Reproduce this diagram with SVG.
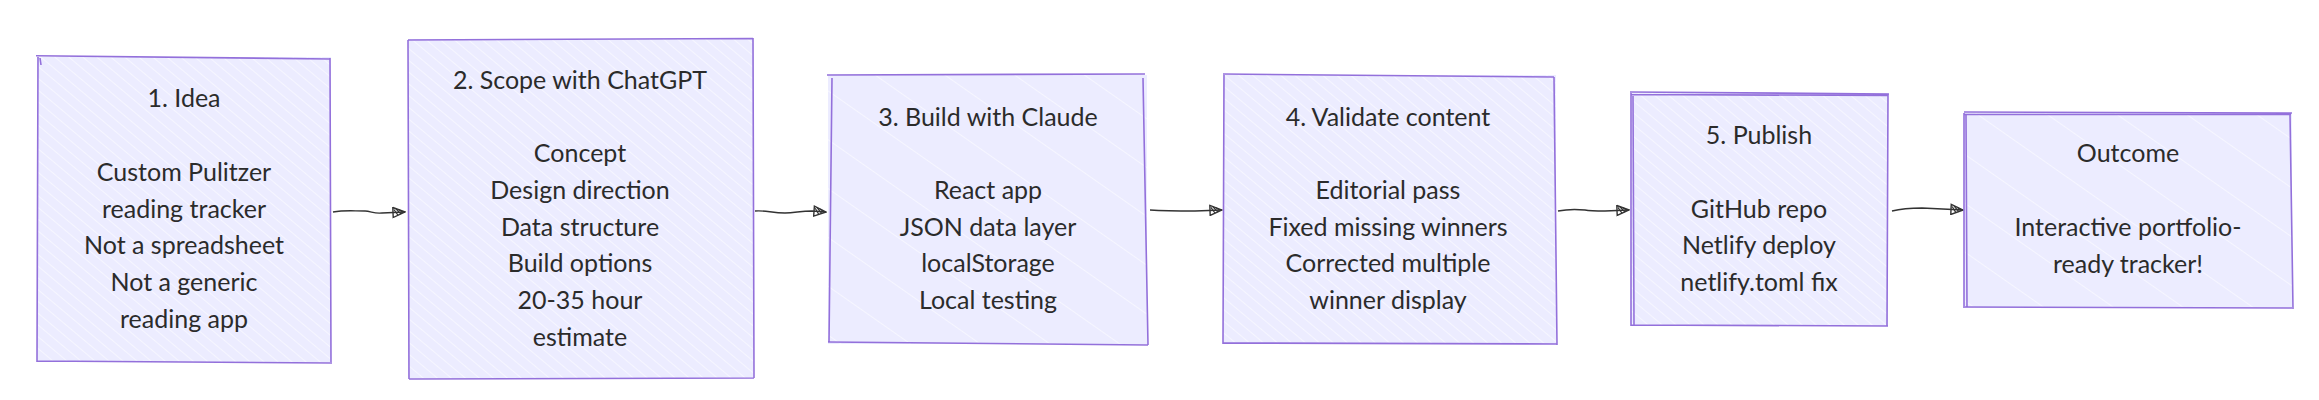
<svg xmlns="http://www.w3.org/2000/svg" width="2319" height="400" viewBox="0 0 2319 400">
<defs>
<pattern id="hatch" patternUnits="userSpaceOnUse" width="9" height="9" patternTransform="rotate(-50)">
<rect width="9" height="9" fill="#ECECFF"/>
<line x1="0" y1="0" x2="0" y2="9" stroke="#ffffff" stroke-width="1.3" stroke-opacity="0.85"/>
</pattern>
<pattern id="hatch2" patternUnits="userSpaceOnUse" width="40" height="40" patternTransform="rotate(-55)">
<rect width="40" height="40" fill="#ECECFF"/>
<line x1="0" y1="0" x2="0" y2="40" stroke="#ffffff" stroke-width="1.2" stroke-opacity="0.9"/>
</pattern>
<marker id="arr" viewBox="0 0 14 12" refX="13" refY="6" markerWidth="14" markerHeight="12" markerUnits="userSpaceOnUse" orient="auto">
<path d="M1,1 L13,6 L1,11 Z" fill="none" stroke="#333" stroke-width="1.4"/>
<path d="M2,3 L6,9 M4,2.5 L9,8 M7,3.5 L11,6" stroke="#333" stroke-width="1.2" fill="none"/>
</marker>
<style>
.box{stroke:#9370DB;stroke-width:1.6;fill:none;}
.bg{stroke:none;}
.lbl{font-family:"Lato","Open Sans",sans-serif;font-size:25px;fill:#2b2b2b;text-anchor:middle;}
.edge{fill:none;stroke:#333333;stroke-width:1.4;}
</style>
</defs>

<g id="connectors">
<path class="edge" d="M333,212 C345,210 352,211 365,211 C371,211 374,214 382,213 L405,212" marker-end="url(#arr)"/>
<path class="edge" d="M755,211 C765,210 772,213 785,213 C795,213 800,211 812,211 L826,212" marker-end="url(#arr)"/>
<path class="edge" d="M1150,210 C1165,211 1180,211 1195,211 L1222,210" marker-end="url(#arr)"/>
<path class="edge" d="M1558,211 C1568,209 1575,209 1585,210 C1590,211 1595,211 1605,211 L1629,210" marker-end="url(#arr)"/>
<path class="edge" d="M1892,211 C1900,209 1912,208 1922,208 L1963,210" marker-end="url(#arr)"/>
</g>

<g id="n1">
<rect class="bg" x="37" y="57" width="294" height="305" fill="url(#hatch)"/>
<path class="box" d="M36,55.7 L330,59 M330,58 L331,362 M332,363 L37,361 M37,362 L38,57 M40,58 L41,65"/>
<text class="lbl" x="184" y="107">1. Idea</text>
<text class="lbl" x="184" y="181">Custom Pulitzer</text>
<text class="lbl" x="184" y="218">reading tracker</text>
<text class="lbl" x="184" y="254">Not a spreadsheet</text>
<text class="lbl" x="184" y="291">Not a generic</text>
<text class="lbl" x="184" y="328">reading app</text>
</g>

<g id="n2">
<rect class="bg" x="408" y="39" width="345" height="339" fill="url(#hatch)"/>
<path class="box" d="M408,40 L753,38.5 M753,38 L754,378 M754,378 L409,379 M409,379 L408,40"/>
<text class="lbl" x="580" y="89">2. Scope with ChatGPT</text>
<text class="lbl" x="580" y="162">Concept</text>
<text class="lbl" x="580" y="199">Design direction</text>
<text class="lbl" x="580" y="236">Data structure</text>
<text class="lbl" x="580" y="272">Build options</text>
<text class="lbl" x="580" y="309">20-35 hour</text>
<text class="lbl" x="580" y="346">estimate</text>
</g>

<g id="n3">
<rect class="bg" x="828" y="75" width="319" height="269" fill="url(#hatch2)"/>
<path class="box" d="M827,75 L1145,74 M1143,78 L1148,345 M1148,345 L828,342 M829,342 L832,78"/>
<text class="lbl" x="988" y="126">3. Build with Claude</text>
<text class="lbl" x="988" y="199">React app</text>
<text class="lbl" x="988" y="236">JSON data layer</text>
<text class="lbl" x="988" y="272">localStorage</text>
<text class="lbl" x="988" y="309">Local testing</text>
</g>

<g id="n4">
<rect class="bg" x="1223" y="75" width="333" height="269" fill="url(#hatch)"/>
<path class="box" d="M1223,74 L1554,77 M1554,77 L1557,345 M1557,344 L1223,343 M1223,344 L1224,75"/>
<text class="lbl" x="1388" y="126">4. Validate content</text>
<text class="lbl" x="1388" y="199">Editorial pass</text>
<text class="lbl" x="1388" y="236">Fixed missing winners</text>
<text class="lbl" x="1388" y="272">Corrected multiple</text>
<text class="lbl" x="1388" y="309">winner display</text>
</g>

<g id="n5">
<rect class="bg" x="1631" y="93" width="257" height="233" fill="url(#hatch)"/>
<path class="box" d="M1630,92 L1889,94 M1888,94 L1887,326 M1888,326 L1631,325 M1631,326 L1631,93 M1633,96 L1634,325 M1631,94.5 L1888,95.5"/>
<text class="lbl" x="1759" y="144">5. Publish</text>
<text class="lbl" x="1759" y="218">GitHub repo</text>
<text class="lbl" x="1759" y="254">Netlify deploy</text>
<text class="lbl" x="1759" y="291">netlify.toml fix</text>
</g>

<g id="n6">
<rect class="bg" x="1964" y="113" width="328" height="195" fill="url(#hatch2)"/>
<path class="box" d="M1964,112 L2292,113 M2290,113 L2293,309 M2292,308 L1965,307 M1964,308 L1964,113 M1966,115 L1967,307 M1964,114.5 L2291,114.5"/>
<text class="lbl" x="2128" y="162">Outcome</text>
<text class="lbl" x="2128" y="236">Interactive portfolio-</text>
<text class="lbl" x="2128" y="273">ready tracker!</text>
</g>
</svg>
